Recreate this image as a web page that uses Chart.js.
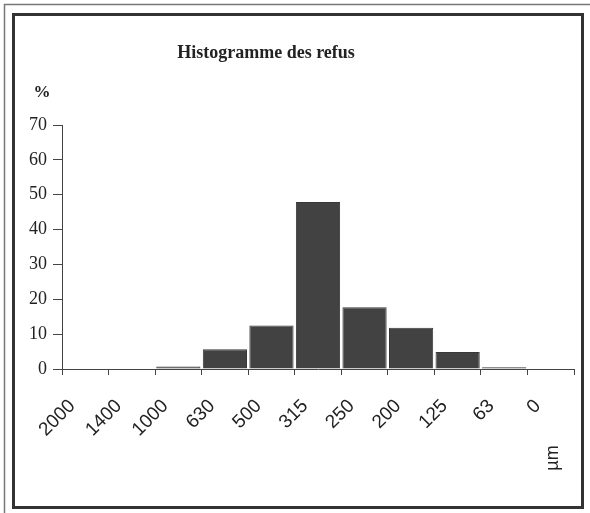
<!DOCTYPE html>
<html>
<head>
<meta charset="utf-8">
<script src="https://cdn.jsdelivr.net/npm/chart.js@4/dist/chart.umd.min.js"></script>
<style>
  body { margin: 0; background: #fff; }
  #wrap { width: 590px; height: 513px; }
</style>
</head>
<body>
<div id="wrap"><canvas id="chart" width="590" height="513"></canvas></div>
<script>
// tamis (µm) et refus (%)
const sieves = ['2000', '1400', '1000', '630', '500', '315', '250', '200', '125', '63', '0'];
const refus = [0, 0, 0.7, 5.7, 12.5, 47.9, 17.7, 11.8, 4.9, 0.5, 0];
const yTicks = [0, 10, 20, 30, 40, 50, 60, 70];

const titleText = 'Histogramme des refus';
const yUnit = '%';
const xUnit = 'µm';

const decor = {
    id: 'decor',
    beforeDraw(chart) {
        const ctx = chart.ctx;
        ctx.save();
        ctx.fillStyle = '#fff';
        ctx.fillRect(0, 0, chart.width, chart.height);
        // cadre fin extérieur
        ctx.strokeStyle = '#777';
        ctx.lineWidth = 1.5;
        ctx.beginPath();
        ctx.moveTo(4.5, 513);
        ctx.lineTo(4.5, 4.5);
        ctx.lineTo(590, 4.5);
        ctx.stroke();
        // cadre épais
        ctx.strokeStyle = '#333';
        ctx.lineWidth = 3;
        ctx.strokeRect(13.5, 14.5, 569, 493);
        ctx.restore();
    },
    afterDraw(chart) {
        const ctx = chart.ctx;
        ctx.save();
        ctx.fillStyle = '#222';
        ctx.textAlign = 'center';
        ctx.textBaseline = 'middle';
        ctx.font = 'bold 18px "Liberation Serif", "Times New Roman", serif';
        ctx.fillText(titleText, 266, 53);
        ctx.font = 'bold 17px "Liberation Serif", "Times New Roman", serif';
        ctx.fillText(yUnit, 42, 93);
        ctx.translate(553, 458);
        ctx.rotate(-Math.PI / 2);
        ctx.font = '18px "Liberation Sans", Arial, sans-serif';
        ctx.fillText(xUnit, 0, 0);
        ctx.restore();
    }
};

new Chart(document.getElementById('chart'), {
    type: 'bar',
    data: {
        labels: sieves,
        datasets: [{
            data: refus,
            backgroundColor: '#424242',
            borderColor: '#383838',
            borderWidth: 1,
            barPercentage: 1,
            categoryPercentage: 0.95
        }]
    },
    options: {
        responsive: false,
        animation: false,
        layout: { padding: { top: 125, right: 16, left: 0, bottom: 0 } },
        plugins: {
            legend: { display: false },
            tooltip: { enabled: false }
        },
        scales: {
            x: {
                afterFit: s => { s.height = 144; },
                grid: { offset: true, drawOnChartArea: false, tickLength: 6, color: '#444' },
                border: { color: '#444', width: 1 },
                ticks: {
                    color: '#222',
                    minRotation: 45,
                    maxRotation: 45,
                    labelOffset: -13,
                    padding: 20,
                    font: { family: '"Liberation Sans", Arial, sans-serif', size: 19 }
                }
            },
            y: {
                min: 0,
                max: 70,
                afterFit: s => { s.width = 62; },
                afterBuildTicks: s => { s.ticks = yTicks.map(v => ({ value: v })); },
                grid: { drawOnChartArea: false, tickLength: 9, color: '#444' },
                border: { color: '#444', width: 1 },
                ticks: {
                    color: '#222',
                    padding: 6,
                    font: { family: '"Liberation Serif", "Times New Roman", serif', size: 18 }
                }
            }
        }
    },
    plugins: [decor]
});
</script>
</body>
</html>
